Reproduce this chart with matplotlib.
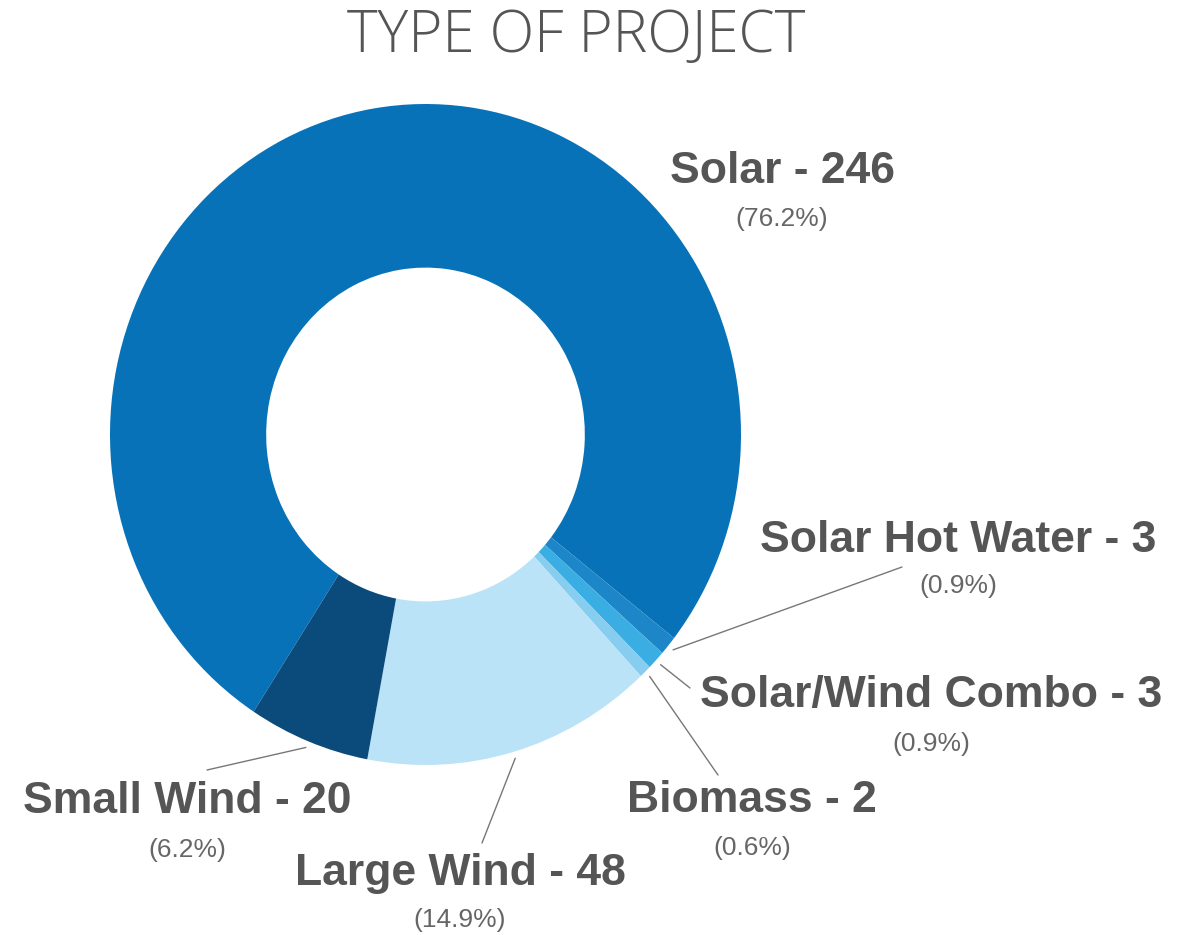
import numpy as np
import matplotlib
matplotlib.use("Agg")
import matplotlib.pyplot as plt

# ---- data ----
categories = ["Solar", "Solar Hot Water", "Solar/Wind Combo", "Biomass", "Large Wind", "Small Wind"]
counts = [246, 3, 3, 2, 48, 20]
percent_labels = ["(76.2%)", "(0.9%)", "(0.9%)", "(0.6%)", "(14.9%)", "(6.2%)"]
colors = ["#0872B9", "#1C86C8", "#3AAEE3", "#86CDEF", "#BAE3F7", "#0B4B7C"]
title = "TYPE OF PROJECT"

W, H = 1194, 935
fig = plt.figure(figsize=(W / 100, H / 100), dpi=100)
fig.patch.set_facecolor("white")

# donut axes (pixel layout, top-origin measurements)
left, right, top, bottom = 110, 741, 104, 765
ax = fig.add_axes([left / W, (H - bottom) / H, (right - left) / W, (bottom - top) / H])
wedges, _ = ax.pie(counts, colors=colors, startangle=237, counterclock=False,
                   radius=1.0, wedgeprops=dict(width=0.495, linewidth=0))
ax.set_xlim(-1, 1)
ax.set_ylim(-1, 1)
ax.set_aspect("auto")
ax.axis("off")

TXT = "#555555"
PCT = "#666666"

fig.text(576 / W, (H - 52) / H, title, ha="center", va="baseline",
         fontsize=42, family="Open Sans", fontweight=300, color="#555555")

# label layout in pixels (top-origin): name x, name baseline, pct baseline
label_pos = [
    (782, 183, 226),
    (958, 552, 593),
    (931, 707, 751),
    (752, 812, 855),
    (460, 885, 927),
    (187, 813, 857),
]
# leader line end points (top-origin pixels); None = no leader
leader_end = [None, (902, 567), (690, 688), (718, 775), (482, 843), (207, 770)]

for i, (cat, n) in enumerate(zip(categories, counts)):
    x, yb, yp = label_pos[i]
    fig.text(x / W, (H - yb) / H, f"{cat} - {n}", ha="center", va="baseline",
             fontsize=32, family="Liberation Sans", fontweight="bold", color=TXT)
    fig.text(x / W, (H - yp) / H, percent_labels[i], ha="center", va="baseline",
             fontsize=19, family="Liberation Sans", color=PCT)
    if leader_end[i] is not None:
        w = wedges[i]
        ang = np.deg2rad((w.theta1 + w.theta2) / 2)
        r = 1.02
        ax.annotate("", xy=(r * np.cos(ang), r * np.sin(ang)), xycoords="data",
                    xytext=(leader_end[i][0], H - leader_end[i][1]), textcoords="figure pixels",
                    arrowprops=dict(arrowstyle="-", color="#777777", lw=1.0,
                                    shrinkA=0, shrinkB=0))

fig.savefig("out.png", dpi=100, facecolor="white")
